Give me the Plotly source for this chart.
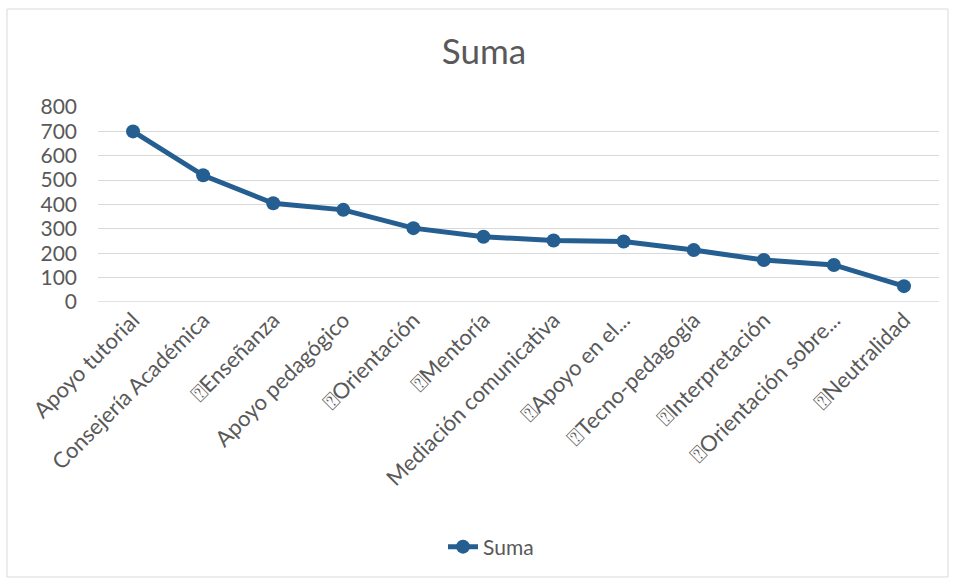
import plotly.graph_objects as go

categories = [
    "Apoyo tutorial",
    "Consejería Académica",
    "\u2370Enseñanza",
    "Apoyo pedagógico",
    "\u2370Orientación",
    "\u2370Mentoría",
    "Mediación comunicativa",
    "\u2370Apoyo en el...",
    "\u2370Tecno-pedagogía",
    "\u2370Interpretación",
    "\u2370Orientación sobre...",
    "\u2370Neutralidad",
]
suma_values = [700, 520, 405, 378, 303, 268, 252, 248, 213, 172, 152, 65]
y_ticks = [0, 100, 200, 300, 400, 500, 600, 700, 800]

FONT = "Lato, 'Open Sans', sans-serif"
GREY = "#595959"
BLUE = "#255e91"

fig = go.Figure()
fig.add_trace(go.Scatter(
    x=categories, y=suma_values, name="Suma", mode="lines+markers",
    line=dict(color=BLUE, width=5),
    marker=dict(color=BLUE, size=14),
))

L, R, T, B = 98, 17, 107, 277
W, H = 956, 579
pw, ph = W - L - R, H - T - B

fig.update_layout(
    width=W, height=H,
    margin=dict(l=L, r=R, t=T, b=B),
    paper_bgcolor="white", plot_bgcolor="white",
    font=dict(family=FONT, color=GREY, size=21),
    title=dict(text="Suma", x=(484 - 0) / W, xanchor="center", y=1 - 52 / H, yanchor="middle",
               font=dict(size=35, color=GREY, family=FONT)),
    showlegend=True,
    legend=dict(orientation="h", x=(491 - L) / pw, xanchor="center",
                y=(H - B - 547) / ph, yanchor="middle",
                font=dict(size=21, color=GREY, family=FONT)),
    xaxis=dict(type="category", tickangle=-45, showgrid=False, showline=False,
               ticks="", tickfont=dict(size=22, color=GREY, family=FONT),
               range=[-0.5, len(categories) - 0.5]),
    yaxis=dict(range=[0, 800], tickvals=y_ticks, showgrid=True, gridcolor="#d9d9d9",
               gridwidth=1.3, zeroline=False, showline=False, ticks="",
               ticklabelstandoff=20, tickfont=dict(size=21, color=GREY, family=FONT)),
)

fig.add_shape(type="rect", xref="paper", yref="paper",
              x0=(7 - L) / pw, x1=(948 - L) / pw,
              y0=(H - B - 577) / ph, y1=(H - B - 9) / ph,
              line=dict(color="#d9d9d9", width=1), fillcolor="rgba(0,0,0,0)", layer="below")
fig.add_shape(type="line", xref="paper", yref="y", x0=0, x1=1, y0=0, y1=0,
              line=dict(color="#d9d9d9", width=1.3), layer="below")

fig.write_html("out.html", config={"displayModeBar": False})
with open("out.html", "r", encoding="utf-8") as f:
    html = f.read()
html = html.replace("<head>", "<head><style>html,body{margin:0;padding:0;overflow:hidden;}</style>", 1)
with open("out.html", "w", encoding="utf-8") as f:
    f.write(html)
